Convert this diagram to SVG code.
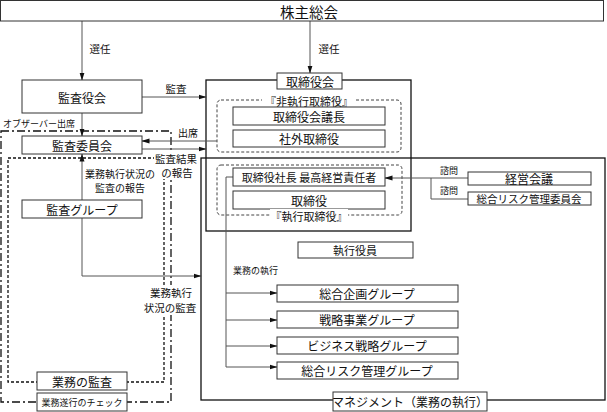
<svg xmlns="http://www.w3.org/2000/svg" width="607" height="412" viewBox="0 0 607 412">
<defs>
<marker id="ah" markerWidth="8" markerHeight="6" refX="7.5" refY="3" orient="auto" markerUnits="userSpaceOnUse">
<path d="M0,0.5 L8,3 L0,5.5 Z" fill="#111"/>
</marker>
<style>
text{font-family:"Noto Sans CJK JP","Noto Sans",sans-serif;fill:#111;text-anchor:middle;dominant-baseline:central}
.box{fill:#fff;stroke:#333;stroke-width:1}
.big{fill:none;stroke:#111;stroke-width:1.3}
.dash{fill:none;stroke:#444;stroke-width:1;stroke-dasharray:3 2}
.dot{fill:none;stroke:#111;stroke-width:1.3;stroke-dasharray:3 2}
.dd{fill:none;stroke:#111;stroke-width:1.3;stroke-dasharray:8 3 2 3}
.ln{fill:none;stroke:#555;stroke-width:1}
.arr{fill:none;stroke:#555;stroke-width:1;marker-end:url(#ah)}
.bg{fill:#fff;stroke:none}
.s9{font-size:9px}.s10{font-size:10px}.s105{font-size:10.5px}.s11{font-size:11px}.s12{font-size:12px}
</style>
</defs>

<!-- containers -->
<g id="audit-area">
<rect class="dd" x="1" y="131" width="170" height="271"/>
<rect class="dot" x="8" y="158" width="156" height="224"/>
</g>
<g id="management">
<rect class="big" x="201" y="158" width="404" height="242"/>
</g>
<g id="board">
<rect class="big" x="206" y="80" width="205" height="151" fill="none"/>
<rect class="dash" x="217" y="100" width="184" height="52" rx="4"/>
<rect class="dash" x="217" y="165" width="185" height="50" rx="4"/>
</g>

<!-- connectors -->
<g id="connectors">
<line class="arr" x1="82" y1="21" x2="82" y2="80"/>
<line class="arr" x1="310" y1="21" x2="310" y2="73"/>
<line class="arr" x1="142" y1="97" x2="206" y2="97"/>
<line class="arr" x1="82" y1="113" x2="82" y2="136"/>
<line class="arr" x1="217" y1="141" x2="142" y2="141"/>
<line class="arr" x1="142" y1="149" x2="206" y2="149"/>
<line class="arr" x1="82" y1="200" x2="82" y2="154"/>
<polyline class="arr" points="82,218 82,276 201,276"/>
<line class="arr" x1="468" y1="178" x2="385" y2="178"/>
<polyline class="ln" points="431,178 431,199 468,199"/>
<polyline class="ln" points="233,177 226,177 226,367"/>
<line class="arr" x1="226" y1="293" x2="277" y2="293"/>
<line class="arr" x1="226" y1="320" x2="277" y2="320"/>
<line class="arr" x1="226" y1="346" x2="277" y2="346"/>
<line class="arr" x1="226" y1="367" x2="277" y2="367"/>
</g>

<!-- labels on connectors -->
<g id="labels">
<text class="s105" x="100" y="48">選任</text>
<text class="s105" x="329" y="48">選任</text>
<text class="s105" x="176" y="88">監査</text>
<text class="s9" x="3" y="123" style="text-anchor:start">オブザーバー出席</text>
<text class="s10" x="188" y="132">出席</text>
<rect class="bg" x="154" y="151" width="44" height="28"/>
<text class="s105" x="176" y="158">監査結果</text>
<text class="s105" x="177" y="172">の報告</text>
<text class="s10" x="120" y="173">業務執行状況の</text>
<text class="s10" x="120" y="187">監査の報告</text>
<rect class="bg" x="143" y="285" width="56" height="30"/>
<text class="s105" x="171" y="292">業務執行</text>
<text class="s105" x="170" y="307">状況の監査</text>
<text class="s9" x="233" y="270" style="text-anchor:start">業務の執行</text>
<text class="s9" x="449" y="170">諮問</text>
<text class="s9" x="449" y="190">諮問</text>
</g>

<g id="n-shareholders">
<rect class="box" x="0.5" y="0.5" width="603" height="20.5"/>
<text x="309" y="11" style="font-size:14.5px">株主総会</text>
</g>
<g id="n-kansayakukai">
<rect class="box" x="22" y="80" width="120" height="33"/>
<text class="s12" x="82" y="97">監査役会</text>
</g>
<g id="n-kansaiinkai">
<rect class="box" x="22" y="136" width="120" height="18"/>
<text class="s12" x="82" y="145">監査委員会</text>
</g>
<g id="n-kansagroup">
<rect class="box" x="22" y="200" width="120" height="18"/>
<text class="s12" x="82" y="209">監査グループ</text>
</g>
<g id="n-gyomukansa">
<rect class="box" x="37" y="372" width="90" height="18"/>
<text class="s12" x="82" y="381">業務の監査</text>
</g>
<g id="n-check">
<rect class="box" x="37" y="393" width="90" height="18"/>
<text class="s9" x="82" y="402">業務遂行のチェック</text>
</g>

<g id="n-board-label">
<rect class="box" x="277" y="73" width="65" height="16"/>
<text class="s12" x="310" y="81">取締役会</text>
</g>
<g id="n-nonexec-label">
<rect class="bg" x="262" y="94" width="94" height="13"/>
<text class="s11" x="309" y="101">『非執行取締役』</text>
</g>
<g id="n-chair">
<rect class="box" x="233" y="107" width="152" height="18"/>
<text class="s12" x="309" y="116">取締役会議長</text>
</g>
<g id="n-outside">
<rect class="box" x="233" y="130" width="152" height="17"/>
<text class="s12" x="309" y="138.5">社外取締役</text>
</g>
<g id="n-president">
<rect class="box" x="233" y="168" width="152" height="18"/>
<text class="s11" x="309" y="177">取締役社長 最高経営責任者</text>
</g>
<g id="n-director">
<rect class="box" x="233" y="191" width="152" height="18"/>
<text class="s12" x="309" y="200">取締役</text>
</g>
<g id="n-exec-label">
<rect class="bg" x="270" y="209" width="78" height="13"/>
<text class="s11" x="309" y="216">『執行取締役』</text>
</g>

<g id="n-keieikaigi">
<rect class="box" x="468" y="172" width="123" height="13"/>
<text class="s12" x="529" y="178.5">経営会議</text>
</g>
<g id="n-riskiinkai">
<rect class="box" x="468" y="192" width="123" height="13"/>
<text class="s105" x="529" y="198.5">総合リスク管理委員会</text>
</g>

<g id="n-shikkoyakuin">
<rect class="box" x="298" y="242" width="115" height="16"/>
<text class="s11" x="355" y="250">執行役員</text>
</g>
<g id="n-kikaku">
<rect class="box" x="277" y="285" width="181" height="17"/>
<text class="s12" x="367" y="293.5">総合企画グループ</text>
</g>
<g id="n-senryaku">
<rect class="box" x="277" y="311" width="181" height="17"/>
<text class="s12" x="367" y="319.5">戦略事業グループ</text>
</g>
<g id="n-business">
<rect class="box" x="277" y="337" width="181" height="17"/>
<text class="s12" x="367" y="345.5">ビジネス戦略グループ</text>
</g>
<g id="n-riskgroup">
<rect class="box" x="277" y="362" width="181" height="17"/>
<text class="s12" x="367" y="370.5">総合リスク管理グループ</text>
</g>
<g id="n-management-label">
<rect class="box" x="333" y="392" width="154" height="19"/>
<text class="s12" x="410" y="401.5">マネジメント（業務の執行）</text>
</g>
</svg>
